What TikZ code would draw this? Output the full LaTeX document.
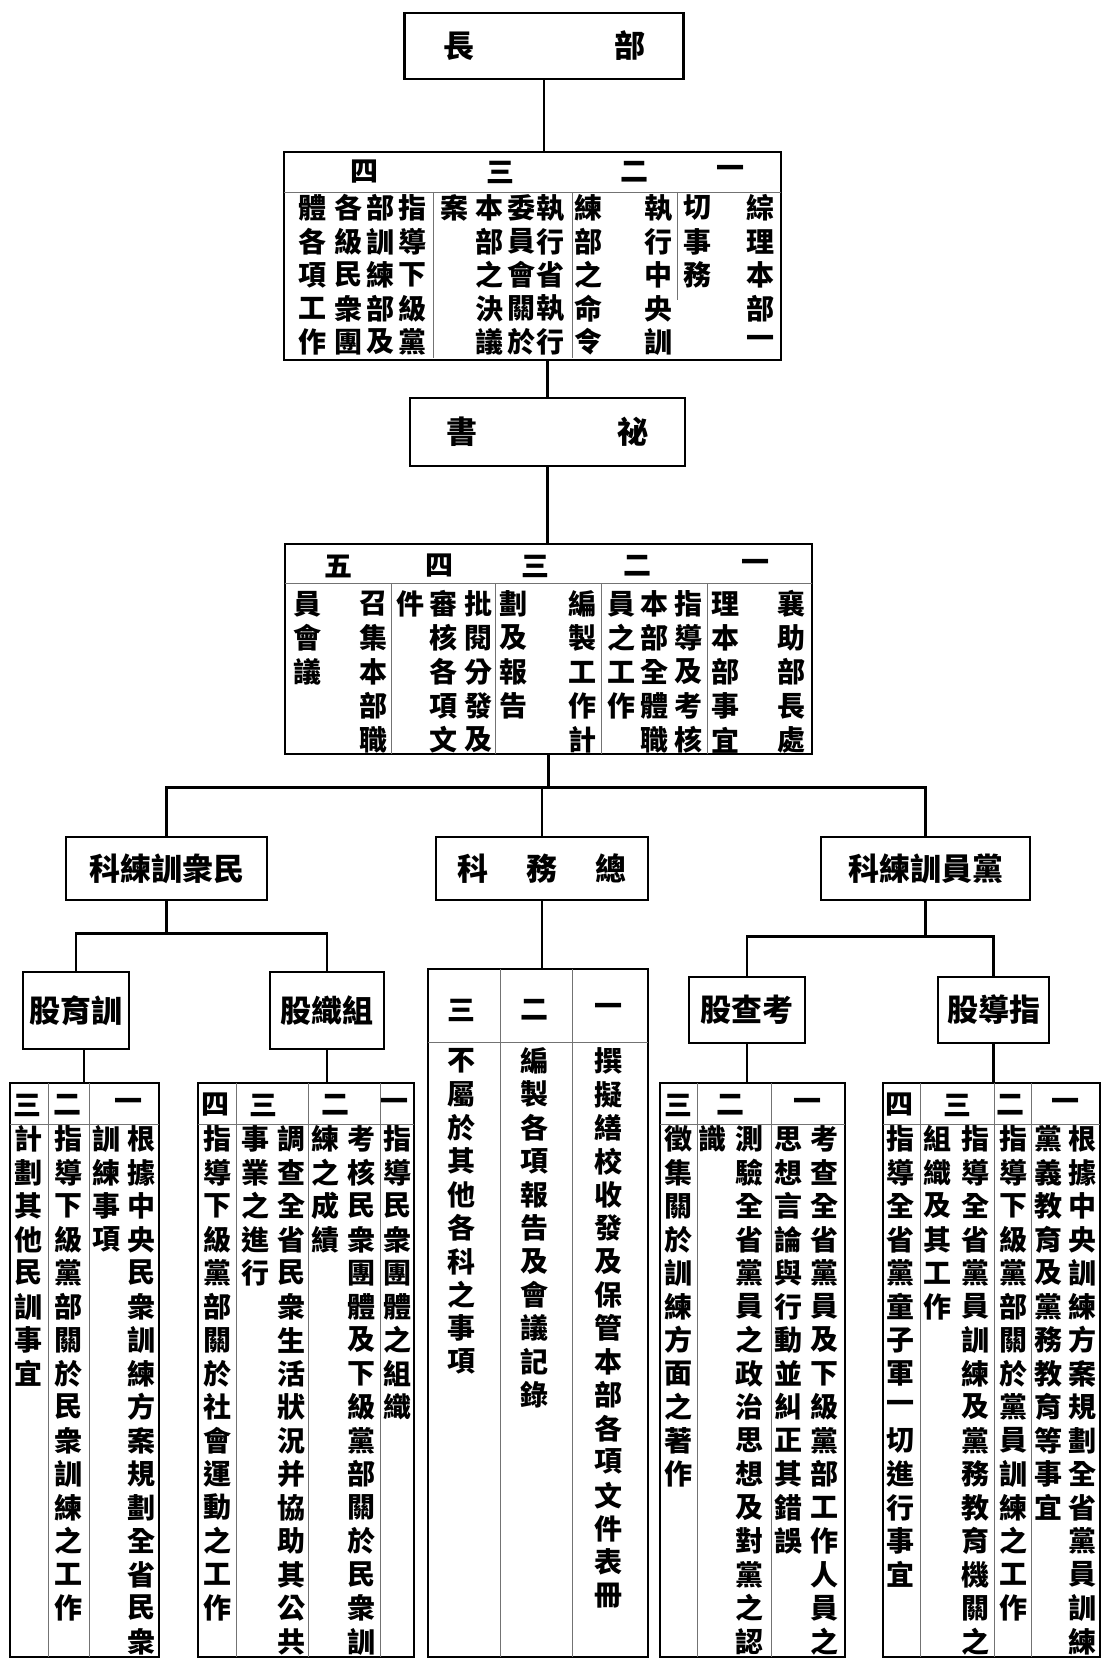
\documentclass[tikz,border=0pt]{standalone}
\usepackage{fontspec}
\newfontfamily\cjk{Noto Sans CJK TC}
\usetikzlibrary{positioning}

% one column of characters, top to bottom
\makeatletter
\newcommand\vcol[4][33.5]{%
  \pgfmathsetmacro\vy{#3}%
  \@tfor\vch:=#4\do{%
    \node[ch] at (#2,\vy) {\vch};%
    \pgfmathsetmacro\vy{\vy+#1}%
  }%
}
\makeatother

\begin{document}
\begin{tikzpicture}[x=1pt,y=-1pt,
    box/.style={draw,line width=2.8pt,inner sep=0pt},
    ch/.style={font=\cjk\bfseries\fontsize{28}{28}\selectfont,inner sep=0pt},
    lab/.style={box,font=\cjk\bfseries\fontsize{31}{31}\selectfont},
    rule/.style={line width=0.8pt,black!55},
    conn/.style={line width=2.6pt}]
  \useasboundingbox (0,0) rectangle (1106,1661);

  % head and secretary
  \node[lab,minimum width=279pt,minimum height=66pt] (bz) at (544,46) {長\hskip140pt 部};
  \node[box,minimum width=497pt,minimum height=208pt] (zhi) at (532.5,256) {};
  \node[lab,minimum width=275pt,minimum height=68pt] (ms) at (547.5,432) {書\hskip140pt 祕};
  \node[box,minimum width=527pt,minimum height=210pt] (cz) at (548.5,649) {};
  \draw[conn] (bz.south) -- (bz.south |- zhi.north);
  \draw[conn] (ms.north) -- (ms.north |- zhi.south);
  \draw[conn] (ms.south) -- (ms.south |- cz.north);

  % duties of the head
  \foreach \x/\n in {730/一,634/二,500/三,364/四} \node[ch] at (\x,172) {\n};
  \draw[rule] (284,192) -- (781,192);
  \draw[rule] (677,192) -- (677,300);
  \draw[rule] (572,192) -- (572,358);
  \draw[rule] (433,192) -- (433,358);
  \vcol{760}{208}{綜理本部一}
  \vcol{697}{208}{切事務}
  \vcol{658}{208}{執行中央訓}
  \vcol{588}{208}{練部之命令}
  \vcol{550}{208}{執行省執行}
  \vcol{521}{208}{委員會關於}
  \vcol{489}{208}{本部之決議}
  \vcol{454}{208}{案}
  \vcol{412}{208}{指導下級黨}
  \vcol{380}{208}{部訓練部及}
  \vcol{348}{208}{各級民衆團}
  \vcol{312}{208}{體各項工作}

  % duties of the secretary
  \foreach \x/\n in {755/一,637/二,535/三,439/四,338/五} \node[ch] at (\x,566) {\n};
  \draw[rule] (285,583) -- (812,583);
  \foreach \x in {707,601,495,391} \draw[rule] (\x,583) -- (\x,754);
  \vcol[34]{791}{604}{襄助部長處}
  \vcol[34]{725}{604}{理本部事宜}
  \vcol[34]{688}{604}{指導及考核}
  \vcol[34]{654}{604}{本部全體職}
  \vcol[34]{621}{604}{員之工作}
  \vcol[34]{582}{604}{編製工作計}
  \vcol[34]{513}{604}{劃及報告}
  \vcol[34]{478}{604}{批閱分發及}
  \vcol[34]{443}{604}{審核各項文}
  \vcol[34]{410}{604}{件}
  \vcol[34]{373}{604}{召集本部職}
  \vcol[34]{307}{604}{員會議}

  % sections
  \node[lab,minimum width=201pt,minimum height=63pt] (mk) at (166.5,868.5) {科練訓衆民};
  \node[lab,minimum width=212pt,minimum height=63pt] (zk) at (542,868.5) {科\hskip38pt 務\hskip38pt 總};
  \node[lab,minimum width=209pt,minimum height=63pt] (dk) at (925.5,868.5) {科練訓員黨};
  \draw[conn] (cz.south) -- ++(0,32) coordinate (bar);
  \draw[conn] (mk.north) |- (bar) -| (dk.north);
  \draw[conn] (bar) -| (zk.north);

  % groups
  \node[lab,minimum width=106pt,minimum height=77pt] (xy) at (76,1010.5) {股育訓};
  \node[lab,minimum width=114pt,minimum height=77pt] (zz) at (327,1010.5) {股織組};
  \node[lab,minimum width=116pt,minimum height=66pt] (kc) at (747,1010) {股查考};
  \node[lab,minimum width=111pt,minimum height=66pt] (zd) at (993.5,1010) {股導指};
  \draw[conn] (mk.south) -- ++(0,32) coordinate (mbar);
  \draw[conn] (xy.north) |- (mbar) -| (zz.north);
  \draw[conn] (dk.south) -- ++(0,35) coordinate (dbar);
  \draw[conn] (kc.north) |- (dbar) -| (zd.north);

  % duty tables
  \node[box,minimum width=149pt,minimum height=574pt] (bxy) at (84.5,1370) {};
  \node[box,minimum width=216pt,minimum height=574pt] (bzz) at (306,1370) {};
  \node[box,minimum width=220pt,minimum height=688pt] (bzw) at (538,1313) {};
  \node[box,minimum width=185pt,minimum height=574pt] (bkc) at (752.5,1370) {};
  \node[box,minimum width=217pt,minimum height=574pt] (bzd) at (991.5,1370) {};
  \draw[conn] ([xshift=8pt]xy.south) -- ([xshift=8pt]xy.south |- bxy.north);
  \draw[conn] (zz.south) -- (zz.south |- bzz.north);
  \draw[conn] (zk.south) -- (zk.south |- bzw.north);
  \draw[conn] (kc.south) -- (kc.south |- bkc.north);
  \draw[conn] (zd.south) -- (zd.south |- bzd.north);

  % training group
  \foreach \x/\n in {128/一,67/二,27/三} \node[ch] at (\x,1105) {\n};
  \draw[rule] (10,1124) -- (159,1124);
  \foreach \x in {48,89} \draw[rule] (\x,1083) -- (\x,1657);
  \vcol{141}{1139}{根據中央民衆訓練方案規劃全省民衆}
  \vcol{106}{1139}{訓練事項}
  \vcol{68}{1139}{指導下級黨部關於民衆訓練之工作}
  \vcol{28}{1139}{計劃其他民訓事宜}

  % organisation group
  \foreach \x/\n in {394/一,335/二,263/三,215/四} \node[ch] at (\x,1105) {\n};
  \draw[rule] (198,1124) -- (414,1124);
  \foreach \x in {236,308,380} \draw[rule] (\x,1083) -- (\x,1657);
  \vcol{397}{1139}{指導民衆團體之組織}
  \vcol{361}{1139}{考核民衆團體及下級黨部關於民衆訓}
  \vcol{325}{1139}{練之成績}
  \vcol{291}{1139}{調查全省民衆生活狀況并協助其公共}
  \vcol{255}{1139}{事業之進行}
  \vcol{217}{1139}{指導下級黨部關於社會運動之工作}

  % general affairs
  \foreach \x/\n in {608/一,534/二,461/三} \node[ch] at (\x,1010) {\n};
  \draw[rule] (428,1042) -- (648,1042);
  \foreach \x in {500,572} \draw[rule] (\x,969) -- (\x,1657);
  \vcol[33.4]{608}{1061}{撰擬繕校收發及保管本部各項文件表冊}
  \vcol[33.4]{534}{1061}{編製各項報告及會議記錄}
  \vcol[33.4]{461}{1061}{不屬於其他各科之事項}

  % inspection group
  \foreach \x/\n in {807/一,730/二,678/三} \node[ch] at (\x,1105) {\n};
  \draw[rule] (660,1124) -- (845,1124);
  \foreach \x in {697,771} \draw[rule] (\x,1083) -- (\x,1657);
  \vcol{824}{1139}{考查全省黨員及下級黨部工作人員之}
  \vcol{788}{1139}{思想言論與行動並糾正其錯誤}
  \vcol{749}{1139}{測驗全省黨員之政治思想及對黨之認}
  \vcol{712}{1139}{識}
  \vcol{678}{1139}{徵集關於訓練方面之著作}

  % guidance group
  \foreach \x/\n in {1065/一,1010/二,957/三,899/四} \node[ch] at (\x,1105) {\n};
  \draw[rule] (883,1124) -- (1100,1124);
  \foreach \x in {920,994,1031} \draw[rule] (\x,1083) -- (\x,1657);
  \vcol{1082}{1139}{根據中央訓練方案規劃全省黨員訓練}
  \vcol{1048}{1139}{黨義教育及黨務教育等事宜}
  \vcol{1013}{1139}{指導下級黨部關於黨員訓練之工作}
  \vcol{975}{1139}{指導全省黨員訓練及黨務教育機關之}
  \vcol{937}{1139}{組織及其工作}
  \vcol{900}{1139}{指導全省黨童子軍一切進行事宜}
\end{tikzpicture}
\end{document}
